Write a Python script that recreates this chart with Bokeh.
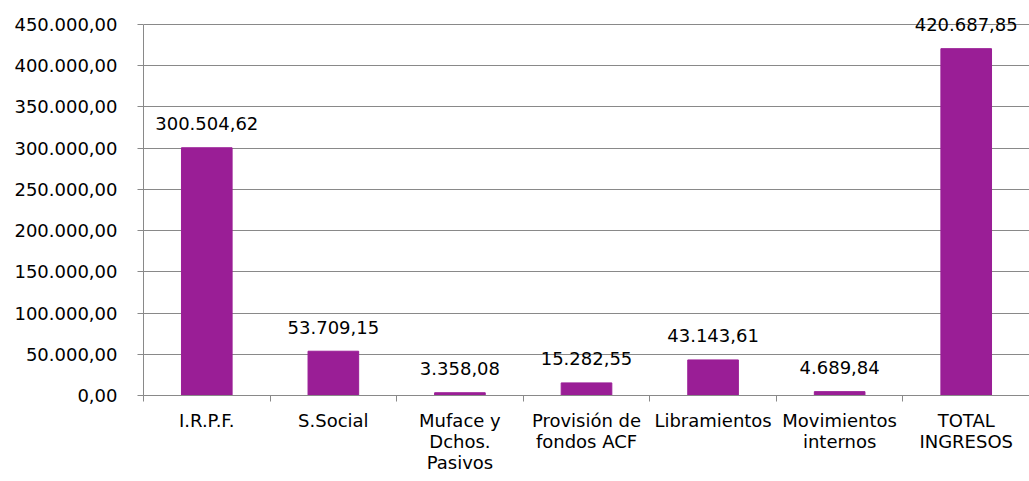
from bokeh.plotting import figure
from bokeh.models import ColumnDataSource, FixedTicker, Range1d
from bokeh.core.properties import value
from bokeh.embed import file_html
from bokeh.resources import INLINE

categories = ["I.R.P.F.", "S.Social", "Muface y\nDchos.\nPasivos", "Provisión de\nfondos ACF",
              "Libramientos", "Movimientos\ninternos", "TOTAL\nINGRESOS"]
amounts = [300504.62, 53709.15, 3358.08, 15282.55, 43143.61, 4689.84, 420687.85]
y_ticks = [0, 50000, 100000, 150000, 200000, 250000, 300000, 350000, 400000, 450000]


def es(v):
    s = f"{v:,.2f}"
    return s.replace(",", "X").replace(".", ",").replace("X", ".")


FONT = "DejaVu Sans"
GRAY = "#898989"
BAR = "#9A1E96"

n = len(categories)
xs = [i + 0.5 for i in range(n)]
src = ColumnDataSource(dict(x=xs, top=amounts, lab=[es(v) for v in amounts]))

p = figure(width=1029, height=481, output_backend="svg", toolbar_location=None,
           x_range=Range1d(0, n), y_range=Range1d(0, 466980),
           min_border_left=143, min_border_right=0, min_border_top=10, min_border_bottom=86)
p.outline_line_color = None
p.background_fill_color = "white"
p.border_fill_color = "white"

p.vbar(x="x", top="top", width=0.4, color=BAR, source=src)
p.text(x="x", y="top", text="lab", source=src, text_align="center", text_baseline="middle",
       y_offset=-24, text_font=value(FONT), text_font_size="18px", text_color="#000000")

# x axis
xa = p.xaxis[0]
xa.ticker = FixedTicker(ticks=xs, minor_ticks=list(range(n + 1)))
xa.major_label_overrides = {x: c for x, c in zip(xs, categories)}
xa.major_tick_line_color = None
xa.major_tick_out = 0
xa.major_tick_in = 0
xa.minor_tick_line_color = GRAY
xa.minor_tick_out = 6
xa.minor_tick_in = 0
xa.axis_line_color = GRAY
xa.major_label_text_font = FONT
xa.major_label_text_font_size = "18px"
xa.major_label_text_color = "#000000"
xa.major_label_text_line_height = 1.0
xa.major_label_standoff = 8

# y axis
ya = p.yaxis[0]
ya.ticker = FixedTicker(ticks=y_ticks)
ya.major_label_overrides = {t: es(t) for t in y_ticks}
ya.bounds = (0, 450000)
ya.axis_line_color = GRAY
ya.major_tick_line_color = GRAY
ya.major_tick_out = 6
ya.major_tick_in = 0
ya.minor_tick_line_color = None
ya.major_label_text_font = FONT
ya.major_label_text_font_size = "18px"
ya.major_label_text_color = "#000000"
ya.major_label_standoff = 20

p.xgrid.grid_line_color = None
p.ygrid.grid_line_color = GRAY
p.ygrid.ticker = FixedTicker(ticks=y_ticks)

open("out.html", "w").write(file_html(p, INLINE))
